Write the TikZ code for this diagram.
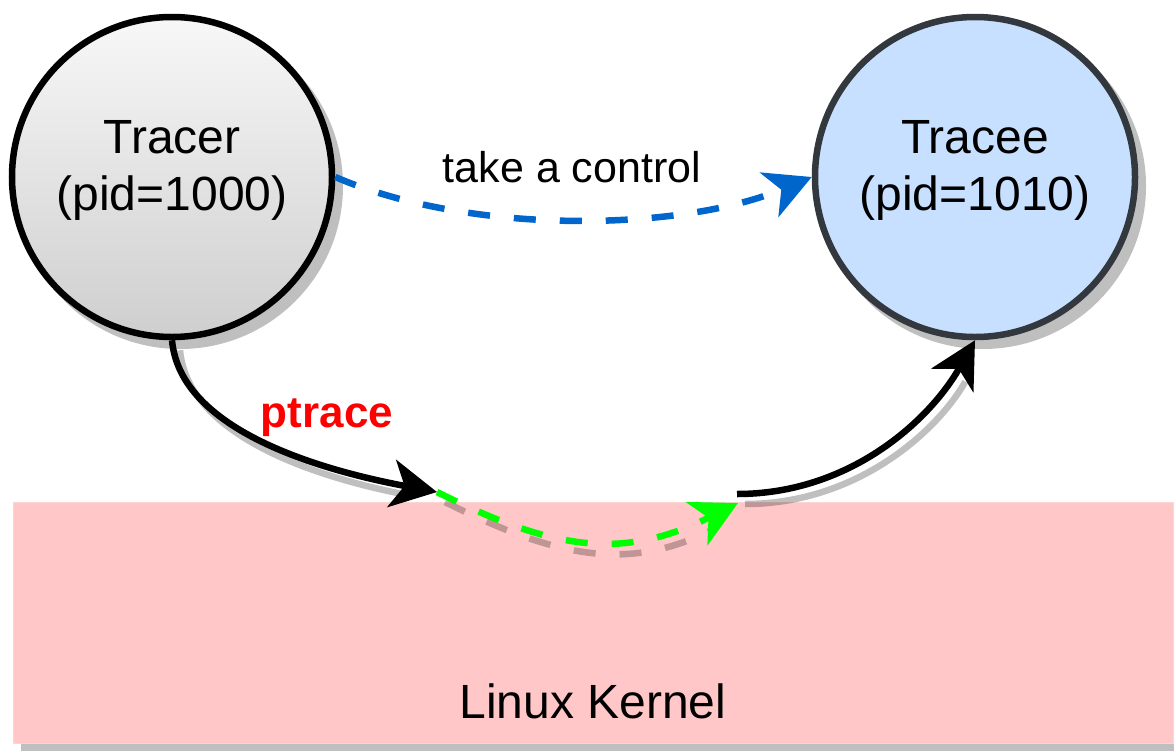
\documentclass[tikz,border=0pt]{standalone}
\usepackage{fontspec}
\setmainfont{Liberation Sans}
\usetikzlibrary{arrows.meta,calc}
\definecolor{kernelpink}{RGB}{255,199,199}
\definecolor{kerneledge}{RGB}{250,214,210}
\definecolor{traceeblue}{RGB}{200,224,255}
\definecolor{traceeedge}{RGB}{50,56,62}
\definecolor{ctrlblue}{RGB}{0,102,204}
\definecolor{sysgreen}{RGB}{0,255,0}
\tikzset{
  proc/.style={circle, minimum size=320pt, inner sep=0pt, line width=6.5pt},
  proctext/.style={align=center, font=\fontsize{48}{57}\selectfont, yshift=7pt},
  shapeshadow/.style={fill=black, opacity=0.25},
  lineshadow/.style={draw=black, opacity=0.25, line width=6.5pt,
    transform canvas={xshift=8pt, yshift=-10pt}},
  bigtip/.style={-{Stealth[length=46pt, width=48pt, inset=13pt]}},
  dashpat/.style={dash pattern=on 22pt off 24pt},
  conn/.style={line width=6.5pt, bigtip},
}
\begin{document}
\begin{tikzpicture}[x=1pt, y=-1pt]
\useasboundingbox (0,0) rectangle (1174,750);

% kernel block with its drop shadow
\fill[shapeshadow] (21,511) rectangle (1181,752);
\node[draw=kerneledge, fill=kernelpink, line width=1pt, inner sep=0pt,
  minimum width=1160pt, minimum height=241pt] (kernel) at (593,622.5) {};
\node[anchor=base, font=\fontsize{48}{56}\selectfont] (kernellabel) at (593,718) {Linux Kernel};

% process circles with drop shadows
\fill[shapeshadow] (180,186) circle[radius=163pt];
\fill[shapeshadow] (983,186) circle[radius=163pt];
\node[proc, draw=black, top color=black!3, bottom color=black!19,
  label={[proctext]center:Tracer\\(pid=1000)}] (tracer) at (172,177) {};
\node[proc, draw=traceeedge, fill=traceeblue,
  label={[proctext]center:Tracee\\(pid=1010)}] (tracee) at (975,177) {};

% hand-over points at the kernel boundary
\coordinate (kin) at (437,492);
\coordinate (kout) at (738,503);
\coordinate (kret) at (737,494);

% shadows of the system call path
\draw[lineshadow, shorten >=36pt] (tracer.south) .. controls (180,430) and (320,470) .. (kin);
\draw[lineshadow, dashpat, shorten >=36pt] (kin) .. controls (553,550) and (622,561) .. (kout);
\draw[lineshadow, shorten >=36pt] (kret) .. controls (850,494) and (930,420) .. (tracee.south);

% control relation
\draw[conn, ctrlblue, dashpat] (tracer.east) .. controls (470,235) and (680,232) .. (tracee.west);
\node[anchor=base, font=\fontsize{43}{50}\selectfont] (ctrllabel) at (572,182) {take a control};

% system call path through the kernel
\draw[conn, black] (tracer.south) .. controls (180,430) and (320,470) .. (kin);
\draw[conn, sysgreen, dashpat] (kin) .. controls (553,550) and (622,561) .. (kout);
\draw[conn, black] (kret) .. controls (850,494) and (930,420) .. (tracee.south);
\node[anchor=base, text=red, font=\fontsize{44}{50}\selectfont\bfseries] (ptracelabel) at (327,427) {ptrace};
\end{tikzpicture}
\end{document}
